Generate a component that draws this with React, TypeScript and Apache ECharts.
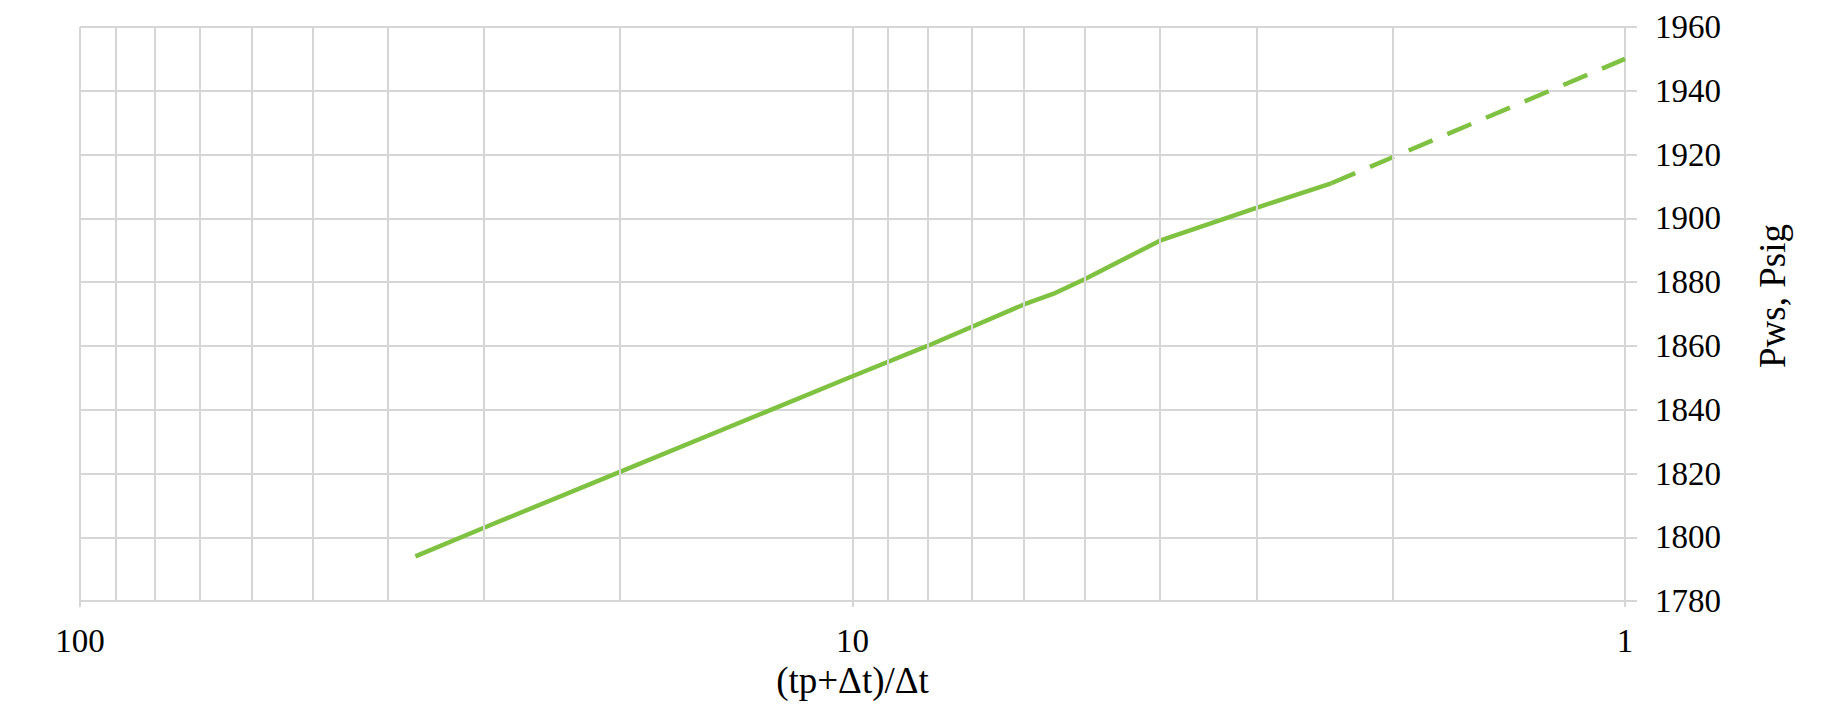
import React, { useEffect, useRef } from "react";
import * as echarts from "echarts";

// (tp+Δt)/Δt values and shut-in pressures
const solidX = [36.8, 30, 20, 10, 8, 6, 5.5, 5, 4, 3, 2.4];
const solidY = [1794, 1803, 1820.5, 1850.5, 1860, 1873, 1876.3, 1881, 1893, 1903.3, 1911];
const dashX = [2.4, 1];
const dashY = [1911, 1950];
const minorGridX = [2, 3, 4, 5, 6, 7, 8, 9, 20, 30, 40, 50, 60, 70, 80, 90];
const yTicks = { min: 1780, max: 1960, interval: 20 };
const xName = "(tp+Δt)/Δt";
const yName = "Pws, Psig";

const FONT = '"Liberation Serif", "Times New Roman", serif';
const GRID = "#d6d6d6";
const GREEN = "#7fc241";

export default function App() {
  const ref = useRef<HTMLDivElement>(null);
  useEffect(() => {
    if (!ref.current) return;
    const chart = echarts.init(ref.current, null, { renderer: "svg" });
    chart.setOption({
      animation: false,
      backgroundColor: "#ffffff",
      grid: { left: 80, right: 199, top: 27, bottom: 93 },
      xAxis: {
        type: "log",
        logBase: 10,
        min: 1,
        max: 100,
        inverse: true,
        name: xName,
        nameLocation: "middle",
        nameGap: 54,
        nameTextStyle: { fontFamily: FONT, fontSize: 37, color: "#000" },
        axisLine: { show: true, lineStyle: { color: GRID, width: 2 } },
        axisTick: { show: true, length: 6, lineStyle: { color: GRID, width: 2 } },
        axisLabel: { fontFamily: FONT, fontSize: 33, color: "#000", margin: 23 },
        splitLine: { show: true, lineStyle: { color: GRID, width: 2 } },
      },
      yAxis: {
        type: "value",
        position: "right",
        min: yTicks.min,
        max: yTicks.max,
        interval: yTicks.interval,
        axisLine: { show: true, lineStyle: { color: GRID, width: 2 } },
        axisTick: { show: true, length: 12, lineStyle: { color: GRID, width: 2 } },
        axisLabel: {
          fontFamily: FONT,
          fontSize: 33,
          color: "#000",
          margin: 30,
          formatter: (v: number) => String(v),
        },
        splitLine: { show: true, lineStyle: { color: GRID, width: 2 } },
      },
      graphic: [
        {
          type: "text",
          x: 1772,
          y: 296,
          rotation: Math.PI / 2,
          style: {
            text: yName,
            font: `37px ${FONT}`,
            fill: "#000",
            align: "center",
            verticalAlign: "middle",
          },
        },
      ],
      series: [
        {
          type: "line",
          data: [],
          silent: true,
          z: 1,
          markLine: {
            silent: true,
            symbol: "none",
            label: { show: false },
            lineStyle: { color: GRID, width: 2, type: "solid" },
            data: minorGridX.map((v) => ({ xAxis: v })),
          },
        },
        {
          type: "line",
          data: solidX.map((x, i) => [x, solidY[i]]),
          showSymbol: false,
          symbol: "none",
          z: 3,
          lineStyle: { color: GREEN, width: 4.5 },
        },
        {
          type: "line",
          data: dashX.map((x, i) => [x, dashY[i]]),
          showSymbol: false,
          symbol: "none",
          z: 3,
          lineStyle: { color: GREEN, width: 4.5, type: [26, 16] },
        },
      ],
    });
    return () => chart.dispose();
  }, []);
  return (
    <div
      ref={ref}
      style={{ position: "fixed", left: 0, top: 0, width: 1824, height: 704 }}
    />
  );
}
